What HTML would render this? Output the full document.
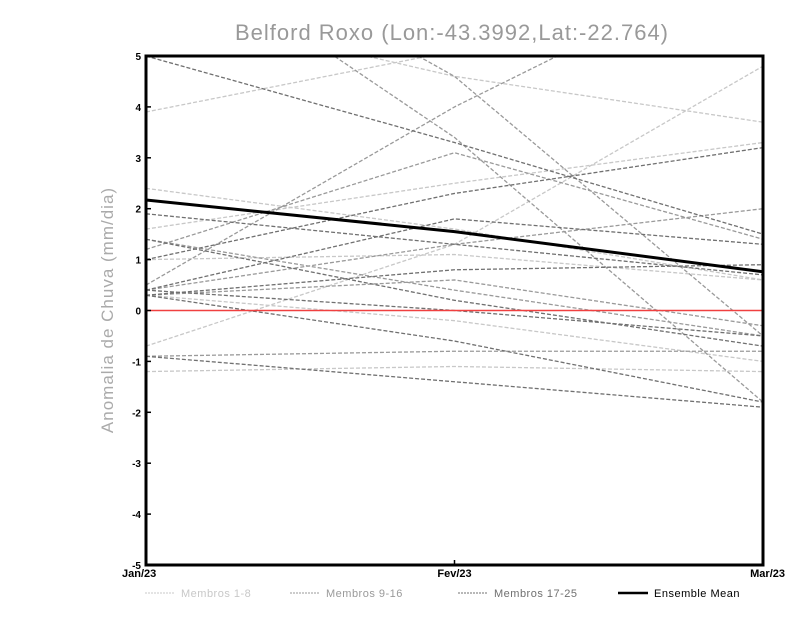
<!DOCTYPE html>
<html><head><meta charset="utf-8"><style>
body{margin:0;background:#fff;width:800px;height:618px;overflow:hidden}
svg{font-family:"Liberation Sans",sans-serif}
</style></head><body>
<svg id="chart" width="800" height="618">
<defs><clipPath id="clip"><rect x="146" y="56" width="617" height="509"/></clipPath></defs>
<text x="452" y="40" text-anchor="middle" font-size="22" fill="#999" letter-spacing="1">Belford Roxo (Lon:-43.3992,Lat:-22.764)</text>
<text transform="translate(113,310) rotate(-90)" text-anchor="middle" font-size="17" fill="#aaa" letter-spacing="1">Anomalia de Chuva (mm/dia)</text>
<g id="marks" clip-path="url(#clip)"></g>
<g id="axes"></g>
</svg>
<script>
const categories=["Jan/23","Fev/23","Mar/23"];
const yTicks=[-5,-4,-3,-2,-1,0,1,2,3,4,5];
const light=[[3.9,5.1,6.0],[2.4,1.6,0.6],[1.6,2.5,3.3],[-0.7,1.3,4.8],[0.3,-0.2,-1.0],[-1.2,-1.1,-1.2],[6.0,4.6,3.7],[1.0,1.1,0.6]];
const mid=[[0.5,4.0,7.0],[7.5,3.4,-1.8],[1.2,3.1,1.4],[1.4,0.4,-0.5],[0.4,1.3,2.0],[-0.9,-0.8,-0.8],[0.3,0.6,-0.3],[8.0,4.6,-0.5]];
const dark=[[5.0,3.3,1.5],[1.9,1.3,0.7],[1.0,2.3,3.2],[0.4,1.8,1.3],[0.3,0.8,0.9],[1.4,0.2,-0.7],[0.3,-0.6,-1.8],[-0.9,-1.4,-1.9],[0.4,0.0,-0.5]];
const mean=[2.17,1.55,0.76];
const NS="http://www.w3.org/2000/svg";
const X0=146,X1=763,Y0=565,Y1=56;
function xs(i){return X0+(X1-X0)*i/(categories.length-1);}
function ys(v){return Y0-(v+5)/10*(Y0-Y1);}
function mk(t,a,p){const e=document.createElementNS(NS,t);for(const k in a)e.setAttribute(k,a[k]);p.appendChild(e);return e;}
const marks=document.getElementById('marks'),axes=document.getElementById('axes');
function pts(s){return s.map((v,i)=>xs(i)+","+ys(v)).join(" ");}
[[light,"#c8c8c8","member-light"],[mid,"#9a9a9a","member-mid"],[dark,"#707070","member-dark"]].forEach(([grp,c,n])=>{
grp.forEach(s=>{const l=mk('polyline',{points:pts(s),fill:'none',stroke:c,'stroke-width':1.3,'stroke-dasharray':'4,2'},marks);

});});
const z=mk('line',{x1:X0,x2:X1,y1:ys(0),y2:ys(0),stroke:'#f04040','stroke-width':1.5},marks);


const m=mk('polyline',{points:pts(mean),fill:'none',stroke:'#000','stroke-width':3},marks);


const fr=mk('rect',{x:X0,y:Y1,width:X1-X0,height:Y0-Y1,fill:'none',stroke:'#000','stroke-width':3},axes);


yTicks.forEach(v=>{mk('line',{x1:X0,x2:X0+5,y1:ys(v),y2:ys(v),stroke:'#000','stroke-width':1.5},axes);
const t=mk('text',{x:X0-5,y:ys(v)+4,'text-anchor':'end','font-size':10,'font-weight':'bold'},axes);t.textContent=v;

});
categories.forEach((c,i)=>{mk('line',{x1:xs(i),x2:xs(i),y1:Y0,y2:Y0-5,stroke:'#000','stroke-width':1.5},axes);
const t=mk('text',{x:xs(i),y:Y0+12,'text-anchor':i==0?'start':i==2?'end':'middle','font-size':11,'font-weight':'bold'},axes);
if(i==0)t.setAttribute('x',xs(i)-24);if(i==2)t.setAttribute('x',xs(i)+22);t.textContent=c;

});
const leg=[["Membros 1-8","#c8c8c8",145,1,true],["Membros 9-16","#9a9a9a",290,1,true],["Membros 17-25","#707070",458,1,true],["Ensemble Mean","#000",618,2.5,false]];
leg.forEach(([lab,c,x,w,d])=>{const g=mk('g',{},axes);


mk('line',{x1:x,x2:x+30,y1:593,y2:593,stroke:c,'stroke-width':w,'stroke-dasharray':d?'2,1':'none'},g);
const t=mk('text',{x:x+36,y:597,'font-size':11,fill:d?c:'#000','letter-spacing':0.5},g);t.textContent=lab;});
</script>
</body></html>
